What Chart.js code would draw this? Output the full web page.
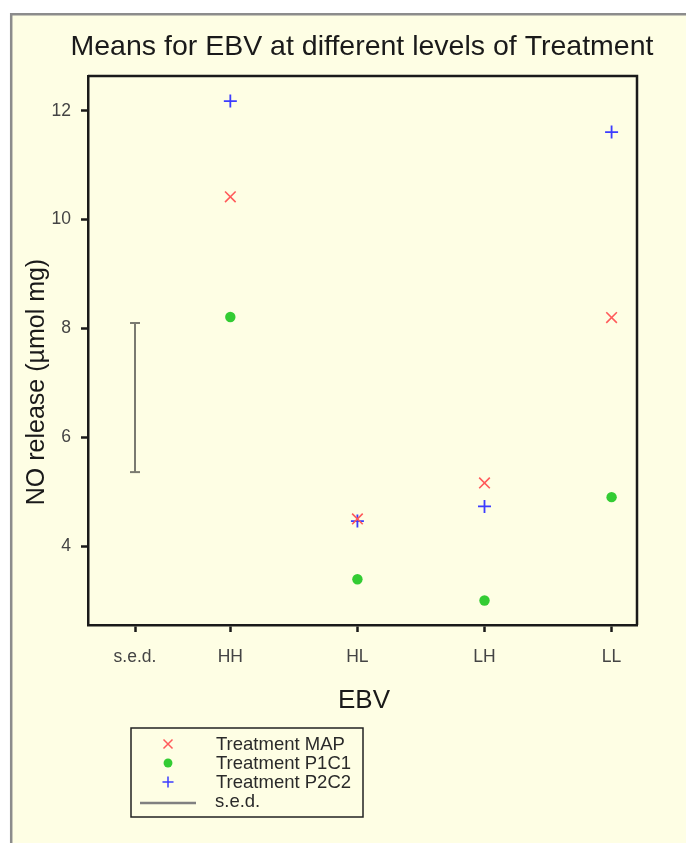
<!DOCTYPE html>
<html>
<head>
<meta charset="utf-8">
<script src="https://cdn.jsdelivr.net/npm/chart.js@4"></script>
<style>
  html, body { margin: 0; padding: 0; background: #fff; }
  #wrap { width: 686px; height: 843px; position: relative; }
</style>
</head>
<body>
<div id="wrap"><canvas id="chart" width="686" height="843"></canvas></div>
<script>
// x positions on the EBV axis, plus their labels
const xTickPos    = [0.25, 1, 2, 3, 4];
const xTickLabels = ['s.e.d.', 'HH', 'HL', 'LH', 'LL'];
const yTicks      = [4, 6, 8, 10, 12];

// means per level (HH, HL, LH, LL)
const levelPos = [1, 2, 3, 4];
const mapMeans  = [10.42, 4.50, 5.16, 8.20];
const p1c1Means = [8.21, 3.39, 3.00, 4.90];
const p2c2Means = [12.18, 4.46, 4.73, 11.61];

// standard error of difference bar
const sedCentre = 6.73;
const sedValue  = 2.74;

const toPoints = (xs, ys) => xs.map((x, i) => ({ x: x, y: ys[i] }));
const FONT = '"Liberation Sans", Arial, sans-serif';

const bgPlugin = {
  id: 'frame',
  beforeDraw(chart) {
    const c = chart.ctx;
    c.save();
    c.fillStyle = '#fff';
    c.fillRect(0, 0, chart.width, chart.height);
    c.fillStyle = '#fefee4';
    c.fillRect(10, 13, chart.width - 10, chart.height - 13);
    c.strokeStyle = '#8c8c8c';
    c.lineWidth = 2.5;
    c.beginPath();
    c.moveTo(11.2, chart.height);
    c.lineTo(11.2, 14.2);
    c.lineTo(chart.width, 14.2);
    c.stroke();
    c.restore();
  },
  afterDraw(chart) {
    const c = chart.ctx;
    const a = chart.chartArea;
    c.save();
    // top and right of the box
    c.strokeStyle = '#1a1a1a';
    c.lineWidth = 2.5;
    c.beginPath();
    c.moveTo(a.left, a.top);
    c.lineTo(a.right, a.top);
    c.lineTo(a.right, a.bottom);
    c.stroke();

    // titles
    c.fillStyle = '#1a1a1a';
    c.textAlign = 'center';
    c.textBaseline = 'middle';
    c.font = '28.5px ' + FONT;
    c.fillText('Means for EBV at different levels of Treatment', 362, 47);
    c.font = '26px ' + FONT;
    c.fillText('EBV', 364, 701);
    c.save();
    c.translate(37, 382);
    c.rotate(-Math.PI / 2);
    c.font = '25px ' + FONT;
    c.fillText('NO release (\u00b5mol mg)', 0, 0);
    c.restore();

    // legend box
    c.strokeStyle = '#222';
    c.lineWidth = 1.5;
    c.strokeRect(131, 728, 232, 89);
    c.font = '18.5px ' + FONT;
    c.textAlign = 'left';
    const rows = [744, 763, 782, 801];
    chart.data.datasets.forEach((ds, i) => {
      const y = rows[i];
      c.fillStyle = '#2a2a2a';
      c.fillText(ds.label, i === 3 ? 215 : 216, y + 1);
      if (i === 3) {
        c.strokeStyle = '#808080';
        c.lineWidth = 2.5;
        c.beginPath();
        c.moveTo(140, y + 2);
        c.lineTo(196, y + 2);
        c.stroke();
      } else {
        c.strokeStyle = ds.borderColor;
        c.fillStyle = ds.backgroundColor;
        Chart.helpers.drawPoint(c, {
          pointStyle: ds.pointStyle,
          radius: ds.pointRadius * 0.85,
          borderWidth: ds.borderWidth,
          rotation: 0
        }, 168, y);
      }
    });
    c.restore();
  }
};

new Chart(document.getElementById('chart'), {
  type: 'scatter',
  data: {
    datasets: [
      {
        label: 'Treatment MAP',
        data: toPoints(levelPos, mapMeans),
        pointStyle: 'crossRot',
        pointRadius: 7.5,
        borderWidth: 1.6,
        borderColor: '#ff5a5a',
        backgroundColor: '#ff5a5a'
      },
      {
        label: 'Treatment P1C1',
        data: toPoints(levelPos, p1c1Means),
        pointStyle: 'circle',
        pointRadius: 5.2,
        borderWidth: 0,
        borderColor: '#33cc33',
        backgroundColor: '#33cc33'
      },
      {
        label: 'Treatment P2C2',
        data: toPoints(levelPos, p2c2Means),
        pointStyle: 'cross',
        pointRadius: 6.5,
        borderWidth: 1.8,
        borderColor: '#3c3cff',
        backgroundColor: '#3c3cff'
      },
      {
        label: 's.e.d.',
        type: 'line',
        data: [
          { x: xTickPos[0], y: sedCentre - sedValue / 2 },
          { x: xTickPos[0], y: sedCentre + sedValue / 2 }
        ],
        showLine: true,
        borderColor: '#7a7a70',
        backgroundColor: '#7a7a70',
        borderWidth: 2,
        pointStyle: 'line',
        pointRadius: 5,
        pointBorderWidth: 2
      }
    ]
  },
  options: {
    responsive: false,
    animation: false,
    layout: { padding: { left: 28, top: 76, right: 49, bottom: 158 } },
    plugins: {
      legend: { display: false },
      tooltip: { enabled: false }
    },
    scales: {
      x: {
        type: 'linear',
        min: -0.12,
        max: 4.2,
        afterFit(s) { s.height = 60; },
        afterBuildTicks(s) { s.ticks = xTickPos.map(v => ({ value: v })); },
        ticks: {
          callback: (v) => xTickLabels[xTickPos.indexOf(v)],
          color: '#444',
          font: { family: FONT, size: 17.5 },
          padding: 15,
          maxRotation: 0,
          autoSkip: false
        },
        grid: {
          drawOnChartArea: false,
          drawTicks: true,
          tickLength: 7,
          tickWidth: 2.5,
          tickColor: '#1a1a1a'
        },
        border: { display: true, color: '#1a1a1a', width: 2.5 }
      },
      y: {
        min: 2.55,
        max: 12.64,
        afterFit(s) { s.width = 60; },
        afterBuildTicks(s) { s.ticks = yTicks.map(v => ({ value: v })); },
        ticks: {
          color: '#444',
          font: { family: FONT, size: 17.5 },
          padding: 10
        },
        grid: {
          drawOnChartArea: false,
          drawTicks: true,
          tickLength: 7,
          tickWidth: 2.5,
          tickColor: '#1a1a1a'
        },
        border: { display: true, color: '#1a1a1a', width: 2.5 }
      }
    }
  },
  plugins: [bgPlugin]
});
</script>
</body>
</html>
